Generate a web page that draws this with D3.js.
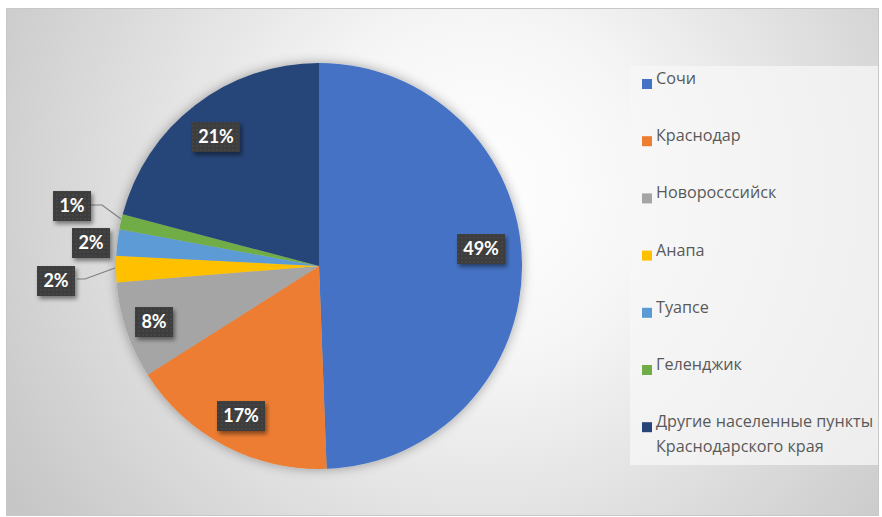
<!DOCTYPE html>
<html>
<head>
<meta charset="utf-8">
<script src="https://cdn.jsdelivr.net/npm/d3@7"></script>
<style>
  html, body { margin: 0; padding: 0; background: #ffffff; }
  svg { display: block; }
  text { font-family: Lato, "Open Sans", sans-serif; }
  .legend text { font-family: "Open Sans", Lato, sans-serif; }
</style>
</head>
<body>
<svg id="chart" width="882" height="517"></svg>
<script>
// Share of guests by destination (percent)
const categories = [
  "Сочи",
  "Краснодар",
  "Новоросссийск",
  "Анапа",
  "Туапсе",
  "Геленджик",
  "Другие населенные пункты Краснодарского края"
];
const values = [49.4, 16.6, 7.7, 2.1, 2.1, 1.2, 20.9];
const colors = ["#4472C4", "#ED7D31", "#A5A5A5", "#FFC000", "#5B9BD5", "#70AD47", "#264478"];
const legendLines = [
  ["Сочи"],
  ["Краснодар"],
  ["Новоросссийск"],
  ["Анапа"],
  ["Туапсе"],
  ["Геленджик"],
  ["Другие населенные пункты", "Краснодарского края"]
];

const svg = d3.select("#chart");
const defs = svg.append("defs");

// Background radial gradient of the chart area
const bg = defs.append("radialGradient")
  .attr("id", "bgGrad")
  .attr("gradientUnits", "userSpaceOnUse")
  .attr("cx", 480).attr("cy", 190).attr("r", 560);
bg.append("stop").attr("offset", 0).attr("stop-color", "#ffffff");
bg.append("stop").attr("offset", 0.3).attr("stop-color", "#f6f6f6");
bg.append("stop").attr("offset", 1).attr("stop-color", "#c6c6c6");

// Soft shadow under the pie
const pieShadow = defs.append("filter").attr("id", "pieShadow")
  .attr("x", "-20%").attr("y", "-20%").attr("width", "140%").attr("height", "140%");
pieShadow.append("feDropShadow")
  .attr("dx", 0).attr("dy", 0).attr("stdDeviation", 6)
  .attr("flood-color", "#000").attr("flood-opacity", 0.35);

// Shadow under the value boxes
const boxShadow = defs.append("filter").attr("id", "boxShadow")
  .attr("x", "-30%").attr("y", "-30%").attr("width", "160%").attr("height", "170%");
boxShadow.append("feDropShadow")
  .attr("dx", 2).attr("dy", 3).attr("stdDeviation", 2)
  .attr("flood-color", "#000").attr("flood-opacity", 0.45);

// Dotted fill for the value boxes
const dots = defs.append("pattern").attr("id", "dots")
  .attr("patternUnits", "userSpaceOnUse").attr("width", 4).attr("height", 4);
dots.append("rect").attr("width", 4).attr("height", 4).attr("fill", "#3c3c3c");
dots.append("circle").attr("cx", 1).attr("cy", 1).attr("r", 0.7).attr("fill", "#555555");

// Chart area
svg.append("rect")
  .attr("x", 6.5).attr("y", 8.5).attr("width", 872).attr("height", 507)
  .attr("fill", "url(#bgGrad)")
  .attr("stroke", "#c8c8c8").attr("stroke-width", 1);

// Pie
const cx = 319, cy = 266, radius = 203;
const pie = d3.pie().sort(null).value(d => d)
  .startAngle(0).endAngle(2 * Math.PI);
const arcs = pie(values);
const arc = d3.arc().innerRadius(0).outerRadius(radius);

const pieG = svg.append("g")
  .attr("transform", `translate(${cx},${cy})`)
  .attr("filter", "url(#pieShadow)");
pieG.selectAll("path")
  .data(arcs)
  .join("path")
  .attr("d", arc)
  .attr("fill", (d, i) => colors[i]);

// Value label placement: offsets from the centre for each box
const labelPos = [
  [162, -17],
  [-78, 150],
  [-165, 56],
  [-263, 15],
  [-228, -23],
  [-247, -60],
  [-103, -129]
];
// Leader lines for labels placed outside the pie (indices)
const leaders = {
  3: [[-242, 13], [-234, 13], [-204, 2]],
  5: [[-228, -61], [-217, -61], [-198, -47]]
};

const lblG = svg.append("g").attr("transform", `translate(${cx},${cy})`);

Object.entries(leaders).forEach(([i, pts]) => {
  lblG.append("path")
    .attr("d", d3.line()(pts))
    .attr("fill", "none")
    .attr("stroke", "#7f7f7f")
    .attr("stroke-width", 1.2);
});

arcs.forEach((d, i) => {
  const txt = Math.round(values[i]) + "%";
  const g = lblG.append("g")
    .attr("transform", `translate(${labelPos[i][0]},${labelPos[i][1]})`);
  const w = txt.length === 3 ? 48 : 38;
  g.append("rect")
    .attr("x", -w / 2).attr("y", -15)
    .attr("width", w).attr("height", 30)
    .attr("fill", "url(#dots)")
    .attr("filter", "url(#boxShadow)");
  g.append("text")
    .attr("text-anchor", "middle")
    .attr("dy", "0.36em")
    .attr("fill", "#ffffff")
    .attr("font-size", 18)
    .attr("font-weight", 700)
    .text(txt);
});

// Legend
const legendG = svg.append("g").attr("class", "legend");
legendG.append("rect")
  .attr("x", 630).attr("y", 66).attr("width", 248).attr("height", 399)
  .attr("fill", "#f7f7f7").attr("fill-opacity", 0.75);

const legendTop = 84, legendStep = 57.2;
categories.forEach((c, i) => {
  const y = legendTop + i * legendStep;
  legendG.append("rect")
    .attr("x", 642).attr("y", y - 5)
    .attr("width", 10).attr("height", 10)
    .attr("fill", colors[i]);
  const t = legendG.append("text")
    .attr("x", 656).attr("y", y)
    .attr("dy", "0.36em")
    .attr("fill", "#595959")
    .attr("font-size", 16.2);
  legendLines[i].forEach((line, k) => {
    t.append("tspan")
      .attr("x", 656)
      .attr("dy", k === 0 ? 0 : 25)
      .text(line);
  });
});
</script>
</body>
</html>
